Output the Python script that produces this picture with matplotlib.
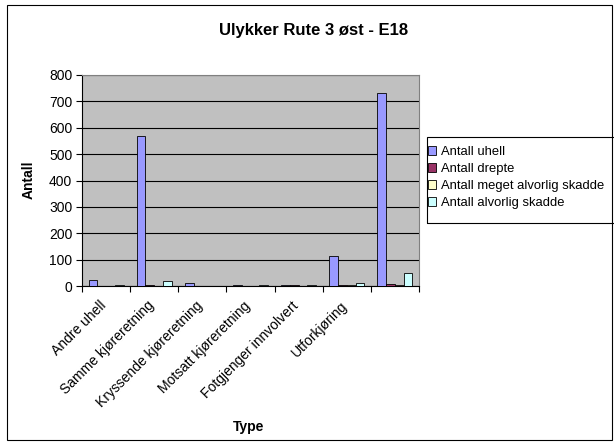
import matplotlib.pyplot as plt
import matplotlib.transforms as mtransforms
import numpy as np
from matplotlib.patches import Rectangle

plt.rcParams['font.family'] = ['Liberation Sans', 'DejaVu Sans']

categories = ['Andre uhell', 'Samme kjøreretning', 'Kryssende kjøreretning',
              'Motsatt kjøreretning', 'Fotgjenger innvolvert', 'Utforkjøring', '']
uhell = [22, 568, 10, 2, 2, 115, 730]
drepte = [0, 3, 0, 0, 2, 2, 7]
meget_alvorlig = [0, 0, 0, 0, 0, 2, 2]
alvorlig = [2, 20, 0, 2, 5, 13, 48]

series = [('Antall uhell', uhell, '#9999FF'),
          ('Antall drepte', drepte, '#993366'),
          ('Antall meget alvorlig skadde', meget_alvorlig, '#FFFFCC'),
          ('Antall alvorlig skadde', alvorlig, '#CCFFFF')]

fig = plt.figure(figsize=(6.14, 4.45), dpi=100)
fig.patches.append(Rectangle((7 / 614, 5 / 445), 605 / 614, 435 / 445,
                             transform=fig.transFigure, fill=False,
                             edgecolor='black', linewidth=0.8))

ax = fig.add_axes([82 / 614, 1 - 286 / 445, 337 / 614, 211 / 445])
ax.set_facecolor('#C0C0C0')

x = np.arange(len(categories))
w = 1 / 5.5
for i, (name, vals, col) in enumerate(series):
    ax.bar(x + (i - 1.5) * w, vals, w, color=col, edgecolor='black',
           linewidth=0.6, label=name, zorder=3)

ax.set_xlim(-0.5, len(categories) - 0.5)
ax.set_ylim(0, 800)
ax.set_yticks(range(0, 801, 100))
ax.yaxis.grid(True, color='black', linewidth=0.8, zorder=1)
ax.tick_params(axis='y', labelsize=10, length=4, width=0.8, direction='out', pad=3)

ax.set_xticks(x)
ax.set_xticklabels(categories, rotation=45, ha='right', va='top',
                   rotation_mode='anchor', fontsize=10)
ax.tick_params(axis='x', which='major', length=0, pad=9)
shift = mtransforms.ScaledTranslation(-7 / 100, 0, fig.dpi_scale_trans)
for lab in ax.get_xticklabels():
    lab.set_transform(lab.get_transform() + shift)
ax.set_xticks(np.arange(-0.5, len(categories)), minor=True)
ax.tick_params(axis='x', which='minor', length=4, width=0.8, direction='out')

for s in ['top', 'right']:
    ax.spines[s].set_color('#808080')
    ax.spines[s].set_linewidth(0.8)
for s in ['left', 'bottom']:
    ax.spines[s].set_color('black')
    ax.spines[s].set_linewidth(0.8)

fig.text(29 / 614, 1 - 180 / 445, 'Antall', fontsize=10, fontweight='bold',
         rotation=90, ha='center', va='center')
fig.text(249 / 614, 1 - 427 / 445, 'Type', fontsize=10, fontweight='bold',
         ha='center', va='center')
fig.text(314 / 614, 1 - 31 / 445, 'Ulykker Rute 3 øst - E18', fontsize=12,
         fontweight='bold', ha='center', va='center')

# legend box drawn separately so the padding matches
fig.patches.append(Rectangle((427 / 614, 1 - 223 / 445), 200 / 614, 86 / 445,
                             transform=fig.transFigure, fill=False,
                             edgecolor='black', linewidth=0.8))
leg = fig.legend(loc='upper left', bbox_to_anchor=(428 / 614, 1 - 146 / 445),
                 fontsize=9.4, frameon=False, handlelength=0.65,
                 handleheight=0.65, handletextpad=0.35, borderpad=0,
                 labelspacing=0.38, borderaxespad=0)

fig.savefig('out.png', dpi=100)
